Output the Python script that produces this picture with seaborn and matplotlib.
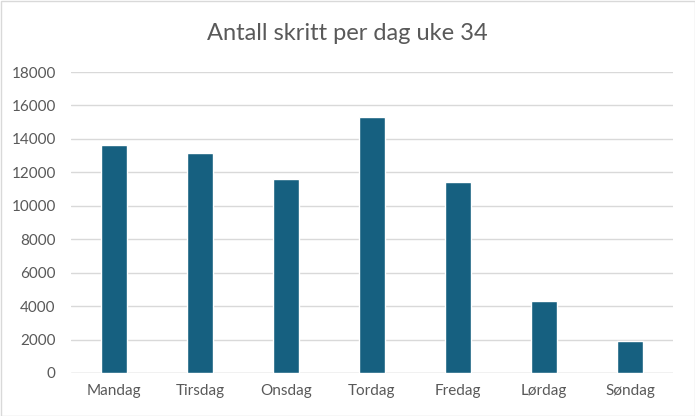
import matplotlib
matplotlib.use("Agg")
import matplotlib.pyplot as plt
import seaborn as sns
import pandas as pd
from matplotlib.patches import Rectangle

days = ["Mandag", "Tirsdag", "Onsdag", "Tordag", "Fredag", "Lørdag", "Søndag"]
steps = [13660, 13180, 11600, 15300, 11400, 4300, 1900]
yticks = [0, 2000, 4000, 6000, 8000, 10000, 12000, 14000, 16000, 18000]
title = "Antall skritt per dag uke 34"

sns.set_theme(style="white")
plt.rcParams['font.family'] = ['Lato', 'DejaVu Sans']

df = pd.DataFrame({"dag": days, "skritt": steps})

fig = plt.figure(figsize=(6.95, 4.16), dpi=100)
ax = fig.add_axes([71/695, 1 - 373/416, 602/695, 301/416])
sns.barplot(data=df, x="dag", y="skritt", color="#166080", width=0.31,
            saturation=1, ax=ax, zorder=3)

ax.set_ylim(0, 18000)
ax.set_yticks(yticks)
ax.set_yticklabels([str(v) for v in yticks])
ax.grid(axis="y", color="#D9D9D9", linewidth=1, zorder=0)
ax.grid(axis="x", visible=False)
for s in ax.spines.values():
    s.set_visible(False)
ax.axhline(0, color="#D9D9D9", linewidth=1, zorder=2)
ax.set_xlabel("")
ax.set_ylabel("")
ax.tick_params(axis="both", length=0, labelsize=11, labelcolor="#595959")
ax.tick_params(axis="y", pad=11)
ax.tick_params(axis="x", pad=8)

fig.text(0.5, 1 - 33/416, title, ha="center", va="center",
         fontsize=17, color="#595959")

fig.patches.append(Rectangle((0.5/695, 0.5/416), 1 - 1/695, 1 - 1/416,
                             transform=fig.transFigure, fill=False,
                             edgecolor="#D9D9D9", linewidth=1))

fig.savefig("out.png", dpi=100)
